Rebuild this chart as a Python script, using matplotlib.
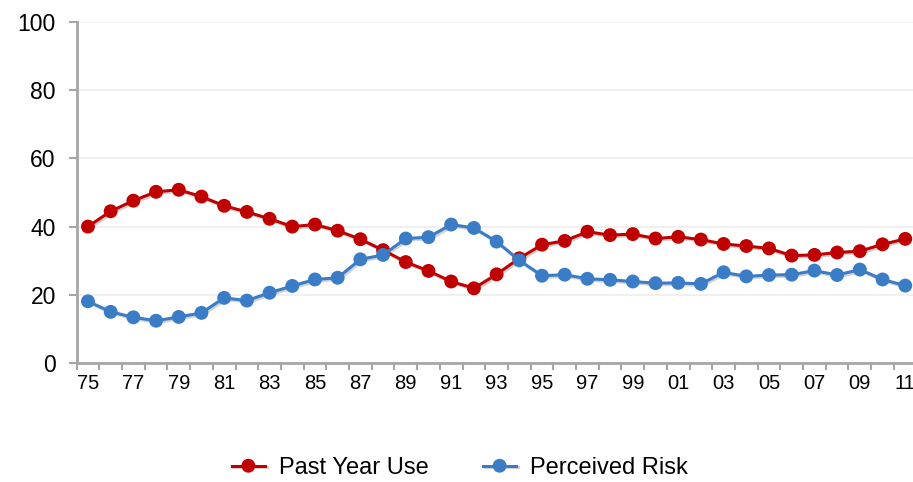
import matplotlib
matplotlib.use("Agg")
import matplotlib.pyplot as plt
import matplotlib.patheffects as pe
import numpy as np

plt.rcParams['font.family'] = ['Liberation Sans', 'DejaVu Sans']

# years 1975 - 2011
years = np.arange(1975, 2012)

# valores
past_year_use = [40.0, 44.5, 47.6, 50.2, 50.8, 48.8, 46.1, 44.3, 42.3, 40.0,
                 40.6, 38.8, 36.3, 33.1, 29.6, 27.0, 23.9, 21.9, 26.0, 30.7,
                 34.7, 35.8, 38.5, 37.5, 37.8, 36.5, 37.0, 36.2, 34.9, 34.3,
                 33.6, 31.5, 31.7, 32.4, 32.8, 34.8, 36.4]
perceived_risk = [18.1, 15.0, 13.4, 12.4, 13.5, 14.7, 19.1, 18.3, 20.6, 22.6,
                  24.5, 25.0, 30.4, 31.7, 36.5, 36.9, 40.6, 39.6, 35.6, 30.1,
                  25.6, 25.9, 24.7, 24.4, 23.9, 23.4, 23.5, 23.2, 26.6, 25.4,
                  25.8, 25.9, 27.1, 25.8, 27.4, 24.5, 22.7]

labels = ['Past Year Use', 'Perceived Risk']
colors = ['#C00000', '#3A7CC6']

fig = plt.figure(figsize=(9.13, 4.82), dpi=100)
ax = fig.add_axes([76.6 / 913, 119 / 482, 840 / 913, 341 / 482])

shadow = [pe.SimpleLineShadow(offset=(1.2, -1.2), alpha=0.18), pe.Normal()]

for vals, lab, c in zip([past_year_use, perceived_risk], labels, colors):
    ax.plot(years, vals, color=c, lw=2.2, marker='o', markersize=10,
            markeredgewidth=0, label=lab, path_effects=shadow, zorder=3)

ax.set_xlim(1974.5, 2011.5)
ax.set_ylim(0, 100)

# y axis
ax.set_yticks(np.arange(0, 101, 20))
ax.tick_params(axis='y', direction='out', length=6, width=1.5, color='#A6A6A6',
               labelsize=16.5, pad=9)
ax.grid(axis='y', color='#EDEDED', lw=1.2, zorder=0)

# x axis: ticks between categories, labels on odd years
ax.set_xticks(np.arange(1974.5, 2012, 1))
ax.set_xticklabels([])
ax.set_xticks(years[::2], minor=True)
ax.set_xticklabels([str(y)[2:] for y in years[::2]], minor=True)
ax.tick_params(axis='x', which='major', direction='out', length=5, width=1.5,
               color='#A6A6A6')
ax.tick_params(axis='x', which='minor', length=0, labelsize=14.5, pad=8)

for s in ['top', 'right']:
    ax.spines[s].set_visible(False)
for s in ['left', 'bottom']:
    ax.spines[s].set_color('#A6A6A6')
    ax.spines[s].set_linewidth(2)

fig.legend(loc='center', bbox_to_anchor=(460 / 913, 1 - 468 / 482), ncol=2,
           frameon=False, fontsize=17, handlelength=1.4, columnspacing=2.3,
           handletextpad=0.6)

fig.savefig('out.png', dpi=100)
